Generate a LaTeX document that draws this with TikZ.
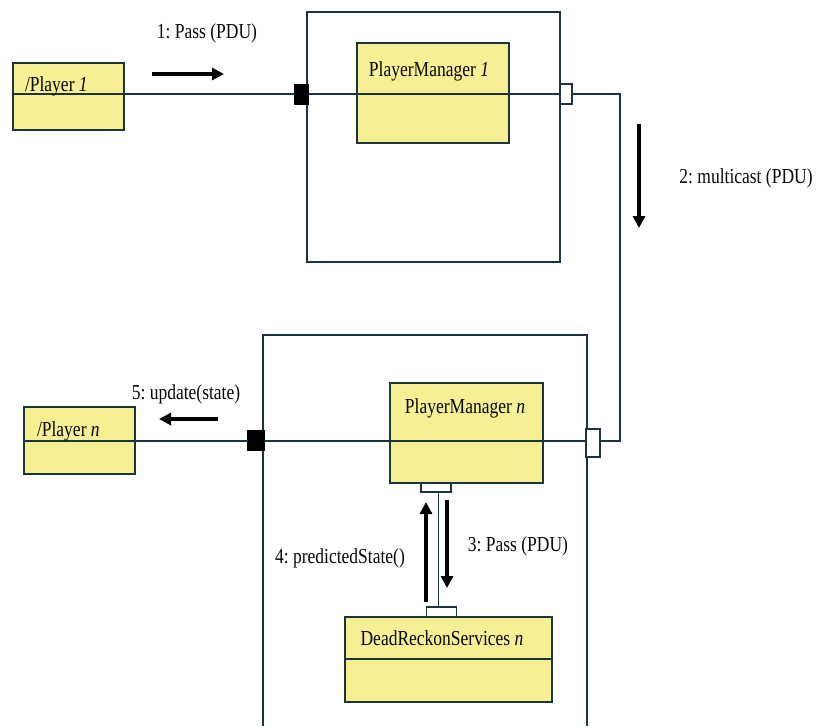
\documentclass[tikz,border=0pt]{standalone}
\usepackage{fontspec}
\setmainfont{Liberation Serif}
\usetikzlibrary{arrows.meta}
\definecolor{boxfill}{RGB}{246,239,148}
\definecolor{wire}{RGB}{28,52,62}
\newcommand\stx[1]{\scalebox{1}[1.22]{#1}}
\begin{document}
\frenchspacing
\begin{tikzpicture}[x=1pt,y=-1pt,
  every node/.style={inner sep=0pt,outer sep=0pt},
  cls/.style={draw=wire,fill=boxfill,line width=1.3pt,rectangle},
  frame/.style={draw=wire,line width=1.1pt,rectangle},
  wireline/.style={draw=wire,line width=1.1pt},
  portb/.style={draw=black,fill=black,rectangle},
  portw/.style={draw=wire,fill=white,line width=1.1pt,rectangle},
  msg/.style={-{Triangle[length=12pt,width=12pt]},line width=3.4pt,black},
  lbl/.style={font=\fontsize{17.5}{20}\selectfont,text=black!85!wire}]
\useasboundingbox (0,0) rectangle (819,726);

% frames
\node[frame,minimum width=253pt,minimum height=250pt] (outer1) at (433.5,137) {};
\draw[wireline] (263,726) -- (263,335) coordinate (o2tl) -- (587,335) coordinate (o2tr) -- (587,726);

% classes
\node[cls,minimum width=111pt,minimum height=67pt] (p1) at (68.5,96.5) {};
\node[cls,minimum width=152pt,minimum height=100pt] (pm1) at (433,93) {};
\node[cls,minimum width=111pt,minimum height=67pt] (pn) at (79.5,440.5) {};
\node[cls,minimum width=153pt,minimum height=100pt] (pmn) at (466.5,433) {};
\node[cls,minimum width=207pt,minimum height=85pt] (drs) at (448.5,659.5) {};

% ports
\node[portb,minimum width=14pt,minimum height=20pt] (p1l) at (301.5,94) {};
\node[portw,minimum width=12pt,minimum height=20pt] (p1r) at (566,94) {};
\node[portb,minimum width=17pt,minimum height=20pt] (pnl) at (256,440) {};
\node[portw,minimum width=14pt,minimum height=28pt] (pnr) at (593,443) {};
\node[portw,minimum width=30pt,minimum height=9pt] (ppm) at (436,487.5) {};
\node[portw,minimum width=30pt,minimum height=10pt] (pdr) at (441.5,612) {};

% dividers / wires
\draw[wireline] (p1.west |- 0,94) -- (p1l.west);
\draw[wireline] (p1l.east) -- (p1r.west);
\draw[wireline] (p1r.east) -- (620,94) coordinate (c1) -- (620,441) coordinate (c2) -- (pnr.east |- c2);
\draw[wireline] (pnr.west |- c2) -- (pnl.east |- c2);
\draw[wireline] (pnl.west |- c2) -- (pn.west |- c2);
\draw[wireline] (drs.west |- 0,659) -- (drs.east |- 0,659);
\draw[wireline] (ppm.south -| 438.5,0) -- (pdr.north -| 438.5,0);

% labels in boxes
\node[lbl,anchor=base west] (t1) at (25,91) {\stx{/Player \textit{1}}};
\node[lbl,anchor=base] (t2) at (429,76) {\stx{PlayerManager \textit{1}}};
\node[lbl,anchor=base west] (t3) at (37,436) {\stx{/Player \textit{n}}};
\node[lbl,anchor=base] (t4) at (465,413) {\stx{PlayerManager \textit{n}}};
\node[lbl,anchor=base] (t5) at (442,645) {\stx{DeadReckonServices \textit{n}}};

% messages
\coordinate (a1s) at (152,74); \coordinate (a1e) at (224,74);
\draw[msg] (a1s) -- (a1e);
\node[lbl,anchor=base] (m1) at (207,38) {\stx{1: Pass (PDU)}};
\coordinate (a2s) at (639,124); \coordinate (a2e) at (639,228);
\draw[msg] (a2s) -- (a2e);
\node[lbl,anchor=base] (m2) at (746,183) {\stx{2: multicast (PDU)}};
\coordinate (a3s) at (447,500); \coordinate (a3e) at (447,588);
\draw[msg] (a3s) -- (a3e);
\node[lbl,anchor=base] (m3) at (518,551) {\stx{3: Pass (PDU)}};
\coordinate (a4s) at (426,602); \coordinate (a4e) at (426,502);
\draw[msg] (a4s) -- (a4e);
\node[lbl,anchor=base] (m4) at (340,563) {\stx{4: predictedState()}};
\coordinate (a5s) at (218,419); \coordinate (a5e) at (159,419);
\draw[msg] (a5s) -- (a5e);
\node[lbl,anchor=base] (m5) at (186,399) {\stx{5: update(state)}};
\end{tikzpicture}
\end{document}
